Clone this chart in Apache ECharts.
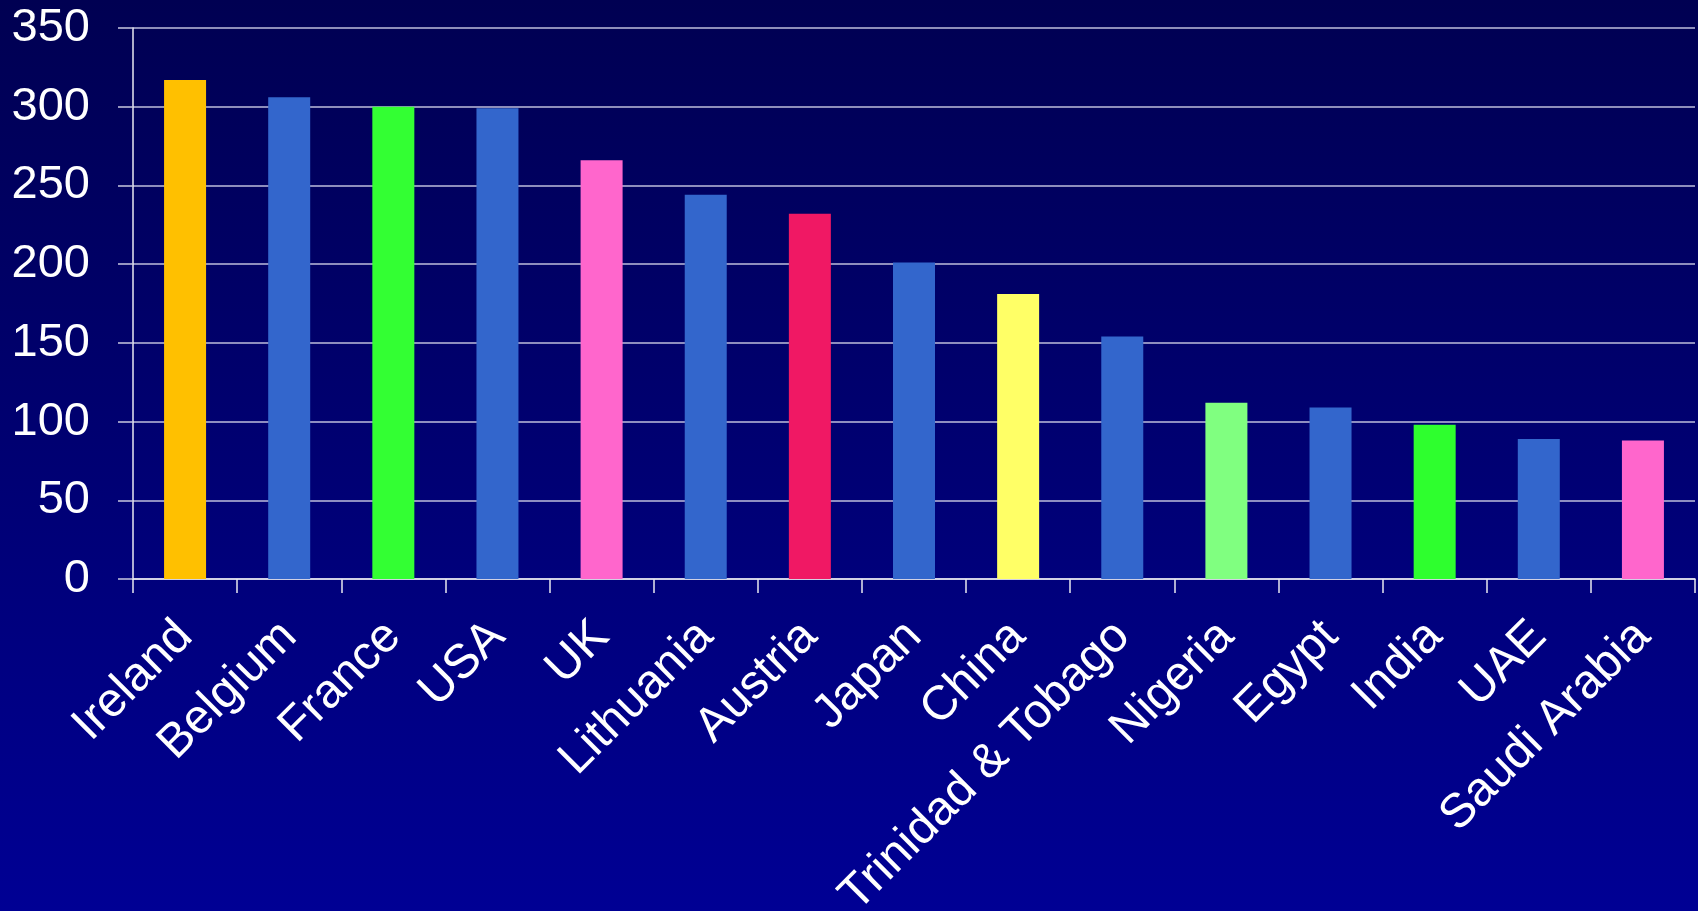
<!DOCTYPE html>
<html>
<head>
<meta charset="utf-8">
<script src="https://cdn.jsdelivr.net/npm/echarts@6/dist/echarts.min.js"></script>
<style>
  html, body { margin: 0; padding: 0; background: #000070; }
  #chart { width: 1698px; height: 911px; }
</style>
</head>
<body>
<div id="chart"></div>
<script>
// Countries, ordered by value
const countries = ['Ireland', 'Belgium', 'France', 'USA', 'UK', 'Lithuania', 'Austria',
  'Japan', 'China', 'Trinidad & Tobago', 'Nigeria', 'Egypt', 'India', 'UAE', 'Saudi Arabia'];
const values = [317, 306, 300, 299, 266, 244, 232, 201, 181, 154, 112, 109, 98, 89, 88];
const barColors = ['#FFC000', '#3366CC', '#33FF33', '#3366CC', '#FF66CC', '#3366CC', '#F01864',
  '#3366CC', '#FFFF66', '#3366CC', '#80FF80', '#3366CC', '#2EFF2E', '#3366CC', '#FF66CC'];
const yTicks = { min: 0, max: 350, step: 50 };

const chart = echarts.init(document.getElementById('chart'), null, { renderer: 'canvas' });

const textFont = 'Liberation Sans, Arial, sans-serif';

chart.setOption({
  backgroundColor: new echarts.graphic.LinearGradient(0, 0, 0, 1, [
    { offset: 0, color: '#000052' },
    { offset: 0.5, color: '#000072' },
    { offset: 1, color: '#000094' }
  ]),
  animation: false,
  grid: { left: 133, right: 3, top: 28, bottom: 332, containLabel: false, outerBoundsMode: 'none' },
  xAxis: {
    type: 'category',
    data: countries,
    axisLine: { lineStyle: { color: '#E8E8F0', width: 1.5 } },
    axisTick: { show: true, length: 14, lineStyle: { color: '#E8E8F0', width: 1.5 } },
    axisLabel: {
      rotate: 45,
      margin: 50,
      color: '#FFFFFF',
      fontSize: 48,
      fontFamily: textFont,
      interval: 0
    }
  },
  yAxis: {
    type: 'value',
    min: yTicks.min,
    max: yTicks.max,
    interval: yTicks.step,
    axisLine: { show: true, lineStyle: { color: '#E8E8F0', width: 1.5 } },
    axisTick: { show: true, length: 15, lineStyle: { color: '#C8C8E0', width: 1.5 } },
    splitLine: { show: true, lineStyle: { color: '#BEBEDC', width: 1.5 } },
    axisLabel: {
      margin: 43,
      color: '#FFFFFF',
      fontSize: 47,
      fontFamily: textFont
    }
  },
  series: [{
    type: 'bar',
    barWidth: 42,
    data: values.map((v, i) => ({
      value: v,
      itemStyle: { color: barColors[i] }
    }))
  }]
});
</script>
</body>
</html>
